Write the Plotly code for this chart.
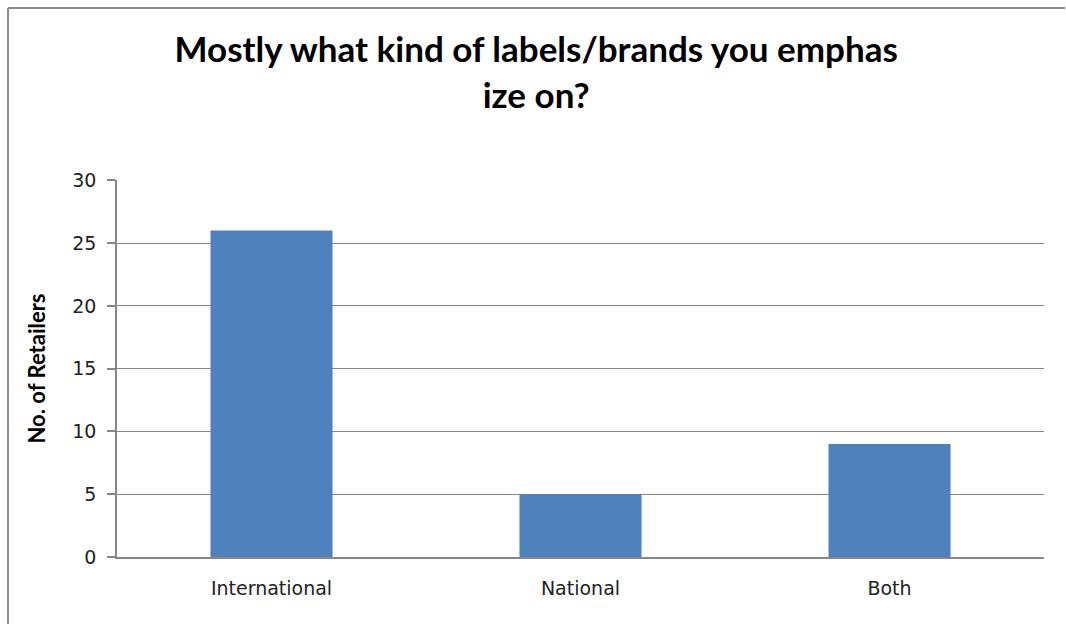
import plotly.graph_objects as go

# Survey responses: which label/brand type retailers emphasize
categories = ["International", "National", "Both"]
retailers = [26, 5, 9]
y_ticks = [0, 5, 10, 15, 20, 25, 30]

W, H = 1066, 625
L, R, T, B = 117, 22, 180, 68
pw, ph = W - L - R, H - T - B

fig = go.Figure(
    go.Bar(
        x=categories,
        y=retailers,
        marker=dict(color="#4F81BD", line=dict(width=0)),
        width=0.395,
    )
)

gray = "#868686"

fig.update_layout(
    width=W,
    height=H,
    margin=dict(l=L, r=R, t=T, b=B),
    paper_bgcolor="white",
    plot_bgcolor="white",
    showlegend=False,
    bargap=0.6,
    title=dict(
        text="Mostly what kind of labels/brands you emphas<br>ize on?",
        x=0.503,
        xanchor="center",
        y=1 - 62 / H,
        yanchor="middle",
        font=dict(family="Lato, 'DejaVu Sans', sans-serif", size=35,
                  color="#000000", weight="bold"),
    ),
    xaxis=dict(
        showline=True,
        linecolor=gray,
        linewidth=1.5,
        ticks="",
        showgrid=False,
        tickfont=dict(family="'DejaVu Sans', sans-serif", size=19, color="#222222"),
        ticklabelstandoff=13,
    ),
    yaxis=dict(
        range=[0, 30.03],
        tickvals=y_ticks,
        showline=True,
        linecolor=gray,
        linewidth=1.5,
        ticks="outside",
        ticklen=8,
        tickcolor=gray,
        tickwidth=1.5,
        showgrid=True,
        gridcolor=gray,
        gridwidth=1.2,
        zeroline=False,
        tickfont=dict(family="'DejaVu Sans', sans-serif", size=19, color="#222222"),
        ticklabelstandoff=7,
        title=dict(
            text="No. of Retailers",
            font=dict(family="Lato, 'DejaVu Sans', sans-serif", size=22,
                      color="#000000", weight="bold"),
            standoff=21,
        ),
    ),
)

# Outer chart frame: top and left edges, kept inside the page
frame = dict(color="#8c8c8c", width=2)
x_left = (8 - L) / pw
x_right = 1 + (R - 1) / pw
y_top = 1 + (T - 8) / ph
y_bottom = -(B - 1) / ph
fig.add_shape(type="line", xref="paper", yref="paper",
              x0=x_left, x1=x_right, y0=y_top, y1=y_top, line=frame)
fig.add_shape(type="line", xref="paper", yref="paper",
              x0=x_left, x1=x_left, y0=y_top, y1=y_bottom, line=frame)

fig.write_html("out.html")
